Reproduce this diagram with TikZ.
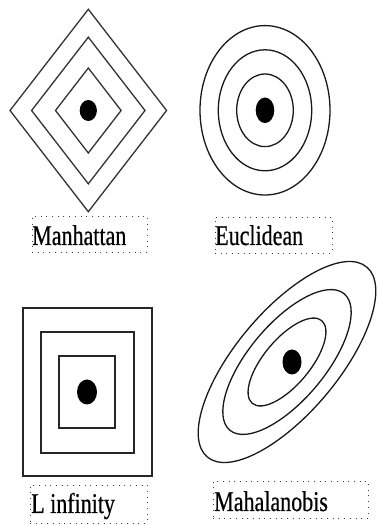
\documentclass[tikz,border=0pt]{standalone}
\usepackage{fontspec}
\setmainfont{Liberation Serif}
\newfontfamily\lblserif[FakeBold=0.6]{Liberation Serif}
\usepackage{graphicx}
\begin{document}
\begin{tikzpicture}[x=1pt,y=1pt,
  contour/.style={draw=black!80,line width=1.3pt},
  sqline/.style={draw=black!85,line width=1.8pt},
  centredot/.style={fill=black},
  lblbox/.style={draw=black!75,line width=0.9pt,dash pattern=on 0.9pt off 4.8pt,inner sep=0pt},
  lbltext/.style={anchor=base west,inner sep=0pt,font=\lblserif\fontsize{22}{24}\selectfont}]
\useasboundingbox (0,0) rectangle (377,525);
\fill[white] (0,0) rectangle (377,525);
% Manhattan
\foreach \w/\h in {78.3/101.2, 56.7/73.3, 32.8/42.5}
  \draw[contour,line join=miter] (88.3-\w,414.5) -- (88.3,414.5+\h) -- (88.3+\w,414.5) -- (88.3,414.5-\h) -- cycle;
\fill[centredot] (88.3,414.5) ellipse [x radius=8.6, y radius=10.5];
\node[lblbox,minimum width=115pt,minimum height=36pt] (bman) at (89.5,291) {};
\node[lbltext] (tman) at ([xshift=0.5pt]bman.west |- 0,280) {\scalebox{1}[1.3]{Manhattan}};
% Euclidean
\draw[contour,black!90] (265,414.7) ellipse [x radius=65, y radius=84.7];
\draw[contour,black!90] (265,414.7) ellipse [x radius=46.7, y radius=60.5];
\draw[contour,black!90] (265,414.7) ellipse [x radius=28.3, y radius=36.3];
\fill[centredot] (265,414.7) ellipse [x radius=9.3, y radius=12.8];
\node[lblbox,minimum width=117pt,minimum height=36pt] (beuc) at (273.5,290) {};
\node[lbltext] (teuc) at ([xshift=0.5pt]beuc.west |- 0,280) {\scalebox{1}[1.3]{Euclidean}};
% L infinity
\draw[sqline] (23,49) rectangle (152,217);
\draw[sqline] (41,72) rectangle (134,193);
\draw[sqline] (59,97) rectangle (115,169);
\fill[centredot] (87,133) ellipse [x radius=10, y radius=12.5];
\node[lblbox,minimum width=117pt,minimum height=38pt] (blinf) at (88.5,21) {};
\node[lbltext] (tlinf) at ([xshift=1.5pt]blinf.west |- 0,12) {\scalebox{1}[1.3]{L infinity}};
% Mahalanobis
\begin{scope}[shift={(287,163)},rotate=50]
  \draw[contour,black!90] (0,0) ellipse [x radius=124, y radius=51];
  \draw[contour,black!90] (0,0) ellipse [x radius=89, y radius=38];
  \draw[contour,black!90] (0,0) ellipse [x radius=54, y radius=23];
\end{scope}
\fill[centredot] (292,163) ellipse [x radius=9.5, y radius=12.5];
\node[lblbox,minimum width=155pt,minimum height=37pt] (bmah) at (290.5,25.5) {};
\node[lbltext] (tmah) at ([xshift=1.5pt]bmah.west |- 0,14) {\scalebox{1}[1.3]{Mahalanobis}};
\end{tikzpicture}
\end{document}
